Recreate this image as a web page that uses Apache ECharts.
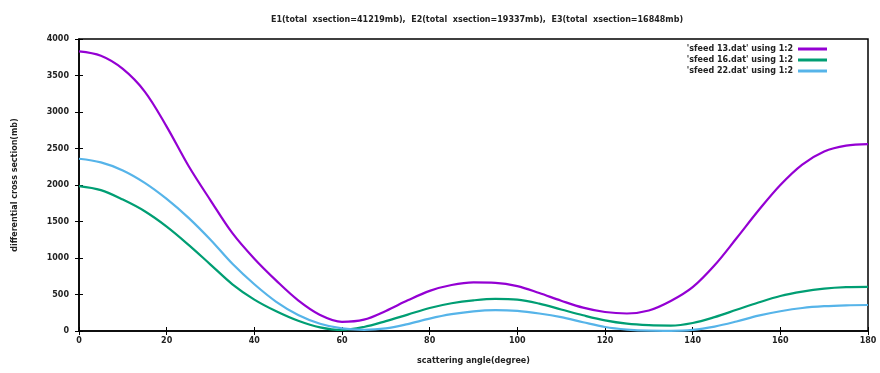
<!DOCTYPE html>
<html>
    <head>
        <meta charset="utf-8">
        <script src="https://cdn.jsdelivr.net/npm/echarts@6/dist/echarts.min.js"></script>
        <style>
            html, body {
                margin: 0;
                padding: 0;
                background: #fff;
            }
            #main {
                width: 880px;
                height: 373px;
            }
        </style>
    </head>
    <body>
        <div id="main"></div>
        <script>

            // scattering angle, degrees
            var angles = [0, 5, 10, 15, 20, 25, 30, 35, 40, 45, 50, 55, 60, 65, 70, 75, 80, 85, 90,
                95, 100, 105, 110, 115, 120, 125, 130, 135, 140, 145, 150, 155, 160, 165, 170, 175, 180];

            var feed13 = [3830, 3770, 3590, 3280, 2800, 2260, 1790, 1340, 990, 690, 420, 220, 125, 155, 275, 420, 550, 630, 665,
                660, 615, 520, 415, 320, 260, 240, 280, 410, 600, 900, 1270, 1650, 2000, 2280, 2460, 2540, 2560];
            var feed16 = [1985, 1930, 1800, 1640, 1430, 1180, 910, 640, 430, 270, 140, 50, 15, 55, 135, 225, 315, 380, 420,
                440, 430, 375, 295, 215, 145, 100, 80, 75, 110, 190, 290, 390, 480, 540, 580, 600, 605];
            var feed22 = [2360, 2310, 2200, 2030, 1810, 1550, 1250, 920, 640, 400, 220, 100, 35, 15, 35, 95, 170, 230, 270,
                285, 275, 240, 190, 120, 55, 20, 5, 3, 15, 60, 130, 210, 270, 315, 340, 352, 356];

            var seriesNames = ["'sfeed 13.dat' using 1:2", "'sfeed 16.dat' using 1:2", "'sfeed 22.dat' using 1:2"];
            var titleText = 'E1(total  xsection=41219mb),  E2(total  xsection=19337mb),  E3(total  xsection=16848mb)';

            function pairs(vals) {
                return angles.map(function (a, i) { return [a, vals[i]]; });
            }

            var font = 'DejaVu Sans';
            var chart = echarts.init(document.getElementById('main'), null, {renderer: 'canvas'});

            var tickStyle = {show: true, inside: true, length: 4, lineStyle: {color: '#000', width: 1}};
            var labelStyle = {fontFamily: font, fontSize: 8, fontWeight: 'bold', color: '#222'};

            function line(name, vals, color) {
                return {
                    name: name,
                    type: 'line',
                    smooth: 0.35,
                    showSymbol: false,
                    data: pairs(vals),
                    lineStyle: {width: 2.2},
                    itemStyle: {color: color}
                };
            }

            var option = {
                animation: false,
                backgroundColor: '#fff',
                title: {
                    text: titleText,
                    left: 472,
                    textAlign: 'center',
                    top: 11,
                    textStyle: labelStyle
                },
                legend: {
                    data: seriesNames,
                    right: 48,
                    top: 40,
                    orient: 'vertical',
                    align: 'right',
                    itemWidth: 29,
                    itemHeight: 3,
                    itemGap: 3,
                    icon: 'rect',
                    textStyle: labelStyle
                },
                grid: {
                    left: 79,
                    right: 12,
                    top: 39,
                    bottom: 42,
                    show: true,
                    borderColor: '#000',
                    borderWidth: 1.5
                },
                xAxis: [{
                    type: 'value',
                    min: 0,
                    max: 180,
                    interval: 20,
                    name: 'scattering angle(degree)',
                    nameLocation: 'middle',
                    nameGap: 26,
                    nameTextStyle: labelStyle,
                    axisLine: {show: true, lineStyle: {color: '#000', width: 1.5}},
                    axisTick: tickStyle,
                    splitLine: {show: false},
                    axisLabel: Object.assign({margin: 6}, labelStyle)
                }, {
                    type: 'value',
                    position: 'top',
                    min: 0,
                    max: 180,
                    interval: 20,
                    axisLine: {show: false},
                    axisTick: tickStyle,
                    splitLine: {show: false},
                    axisLabel: {show: false}
                }],
                yAxis: [{
                    type: 'value',
                    min: 0,
                    max: 4000,
                    interval: 500,
                    name: 'differential cross section(mb)',
                    nameLocation: 'middle',
                    nameGap: 60,
                    nameTextStyle: labelStyle,
                    axisLine: {show: true, lineStyle: {color: '#000', width: 1.5}},
                    axisTick: tickStyle,
                    splitLine: {show: false},
                    axisLabel: Object.assign({
                        margin: 10,
                        formatter: function (v) { return String(v); }
                    }, labelStyle)
                }, {
                    type: 'value',
                    position: 'right',
                    min: 0,
                    max: 4000,
                    interval: 500,
                    axisLine: {show: false},
                    axisTick: tickStyle,
                    splitLine: {show: false},
                    axisLabel: {show: false}
                }],
                series: [
                    line(seriesNames[0], feed13, '#9400d3'),
                    line(seriesNames[1], feed16, '#009e73'),
                    line(seriesNames[2], feed22, '#56b4e9')
                ]
            };

            chart.setOption(option);

        </script>
    </body>
</html>
